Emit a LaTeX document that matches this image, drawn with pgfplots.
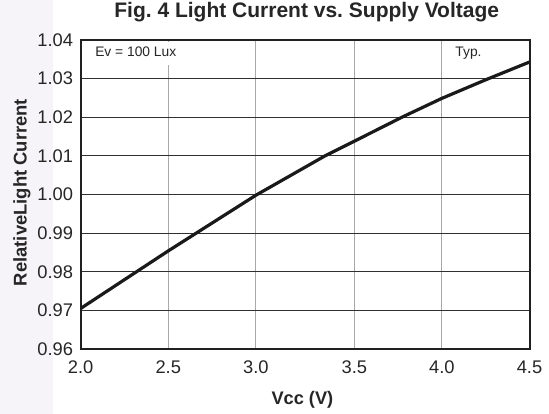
\documentclass[border=0pt]{standalone}
\usepackage{pgfplots}
\pgfplotsset{compat=1.18}
\usepackage{fontspec}
\setmainfont{Liberation Sans}
\definecolor{gridv}{HTML}{A8A8A8}
\definecolor{gridh}{HTML}{303030}
\definecolor{frame}{HTML}{202020}
\definecolor{curve}{HTML}{1A1A1A}
\definecolor{wm}{HTML}{F6F4F8}
\begin{document}
\frenchspacing
\begin{tikzpicture}
\path[use as bounding box, fill=white] (-80.7bp,-65bp) rectangle (468.3bp,349bp);
\fill[wm] (-80.7bp,-65bp) rectangle (-27.5bp,349bp);
\begin{axis}[
  at={(0,0)}, anchor=south west,
  scale only axis,
  width=448.8bp, height=309bp,
  x coord trafo/.code={\pgfmathparse{#1<3 ? (#1-2)*175 : (#1<3.5 ? 175+(#1-3)*197 : 273.5+(#1-3.5)*175)}},
  xmin=2, xmax=4.5, ymin=0.96, ymax=1.04,
  xtick={2,2.5,3,3.5,4,4.5},
  xticklabels={2.0,2.5,3.0,3.5,4.0,4.5},
  ytick={0.96,0.97,0.98,0.99,1.00,1.01,1.02,1.03,1.04},
  yticklabels={0.96,0.97,0.98,0.99,1.00,1.01,1.02,1.03,1.04},
  major tick length=0pt,
  xmajorgrids, ymajorgrids,
  x grid style={gridv, line width=1bp},
  y grid style={gridh, line width=0.9bp},
  axis line style={frame, line width=2bp},
  tick label style={font=\fontsize{18.3bp}{20bp}\selectfont, text=black!85},
  xticklabel style={anchor=base, yshift=-24.3bp},
  yticklabel style={anchor=east, inner sep=0pt, xshift=-7.4bp},
  title={Fig. 4 Light Current vs. Supply Voltage},
  title style={font=\fontsize{21bp}{24bp}\selectfont\bfseries, anchor=base, at={(axis description cs:0.5036,1.054)}, text=black!85},
  xlabel={Vcc (V)},
  xlabel style={font=\fontsize{18.2bp}{20bp}\selectfont\bfseries, anchor=base, at={(axis description cs:0.494,-0.1812)}, text=black!85},
  ylabel={RelativeLight Current},
  ylabel style={font=\fontsize{18.4bp}{20bp}\selectfont\bfseries, rotate=0, anchor=base, at={(axis description cs:-0.1203,0.5065)}, text=black!85},
]
\fill[white] (rel axis cs:0.0035,0.919) rectangle (rel axis cs:0.225,0.995);
\addplot[curve, line width=3.2bp, line join=round] coordinates {
  (2.0,0.9705) (2.5,0.9854) (3.0,0.9998)
  (3.351,1.0100) (3.5,1.0138) (3.771,1.0200) (4.0,1.0249) (4.25,1.0297) (4.5,1.0343)
};
\node[anchor=base west, inner sep=0pt, font=\fontsize{13.8bp}{15bp}\selectfont, text=black!85] at (rel axis cs:0.032,0.945) {Ev = 100 Lux};
\node[anchor=base east, inner sep=0pt, font=\fontsize{13.8bp}{15bp}\selectfont, text=black!85] at (rel axis cs:0.8935,0.946) {Typ.};
\end{axis}
\end{tikzpicture}
\end{document}
